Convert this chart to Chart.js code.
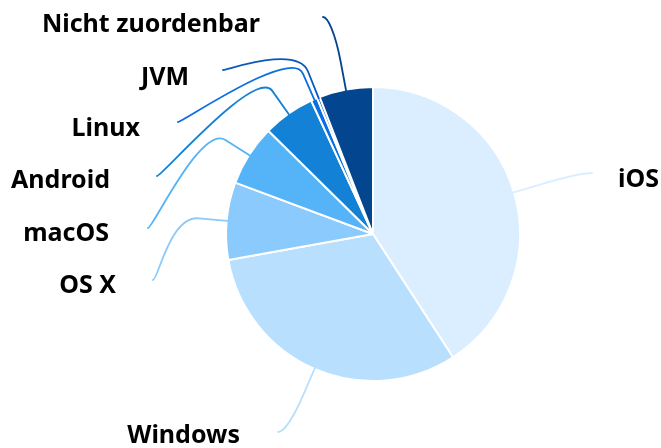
<!DOCTYPE html>
<html>
<head>
<meta charset="utf-8">
<script src="https://cdn.jsdelivr.net/npm/chart.js@4.4.0/dist/chart.umd.min.js"></script>
<style>
    html, body { margin: 0; padding: 0; background: #fff; }
    #wrap { width: 661px; height: 448px; position: relative; }
</style>
</head>
<body>
<div id="wrap"><canvas id="chart"></canvas></div>
<script>
// ============================================================================
// DATA
// ============================================================================
const platforms = ['iOS', 'Windows', 'OS X', 'macOS', 'Android', 'Linux', 'JVM', 'Nicht zuordenbar'];
const shares = [40.8, 31.3, 8.5, 6.7, 5.7, 0.7, 0.3, 5.9];

const sliceColors = ['#dbeeff', '#b8e0fe', '#8bcafc', '#55b3f8', '#1381d6', '#0a6fe0', '#0a58bd', '#03468f'];

// label layout: where each connector ends, and where its text sits
const connectorEnds = [[592, 173], [278, 432], [153, 280], [148, 228], [157, 176], [178, 122], [223, 70], [323, 17]];
const textAnchors = [[618, 187, 'left'], [240, 443, 'right'], [116, 293, 'right'], [109, 241, 'right'],
                     [110, 188, 'right'], [140, 136, 'right'], [189, 85, 'right'], [260, 32, 'right']];

/**
 * Draws the outside labels with soft connectors (rim -> break -> label)
 */
const sliceLabels = {
    id: 'sliceLabels',
    afterDatasetsDraw(chart) {
        const ctx = chart.ctx;
        const arcs = chart.getDatasetMeta(0).data;

        arcs.forEach((arc, i) => {
            const p = arc.getProps(['x', 'y', 'startAngle', 'endAngle', 'outerRadius'], true);
            const mid = (p.startAngle + p.endAngle) / 2;
            const rim = { x: p.x + Math.cos(mid) * (p.outerRadius - 1), y: p.y + Math.sin(mid) * (p.outerRadius - 1) };
            const brk = { x: p.x + Math.cos(mid) * (p.outerRadius + 28), y: p.y + Math.sin(mid) * (p.outerRadius + 28) };
            const [ex, ey] = connectorEnds[i];
            const [tx, ty, align] = textAnchors[i];

            ctx.save();
            ctx.strokeStyle = sliceColors[i];
            ctx.lineWidth = 1.8;
            ctx.lineCap = 'round';
            ctx.beginPath();
            ctx.moveTo(ex, ey);
            ctx.bezierCurveTo(ex + (align === 'left' ? -5 : 5), ey,
                              2 * brk.x - rim.x, 2 * brk.y - rim.y,
                              brk.x, brk.y);
            ctx.lineTo(rim.x, rim.y);
            ctx.stroke();

            ctx.fillStyle = '#000';
            ctx.font = 'bold 25px "Noto Sans", "Open Sans", sans-serif';
            ctx.textAlign = align;
            ctx.textBaseline = 'alphabetic';
            ctx.fillText(platforms[i], tx, ty);
            ctx.restore();
        });
    }
};

new Chart(document.getElementById('chart'), {
    type: 'pie',
    data: {
        labels: platforms,
        datasets: [{
            data: shares,
            backgroundColor: sliceColors,
            borderColor: '#ffffff',
            borderWidth: 2,
            hoverOffset: 0
        }]
    },
    options: {
        responsive: true,
        maintainAspectRatio: false,
        animation: false,
        radius: 147,
        layout: {
            padding: { left: 85, right: 0, top: 20, bottom: 0 }
        },
        plugins: {
            legend: { display: false },
            tooltip: { enabled: false }
        },
        events: []
    },
    plugins: [sliceLabels]
});
</script>
</body>
</html>
